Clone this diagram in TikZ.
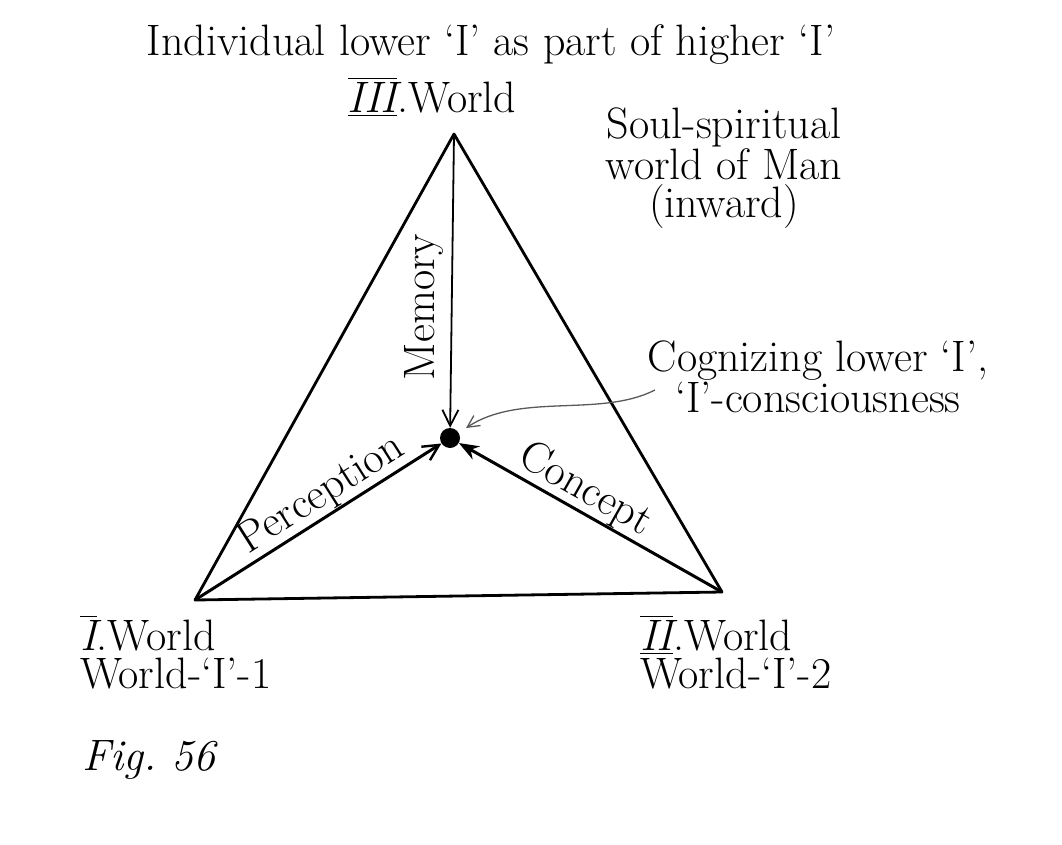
\documentclass[tikz,border=0pt]{standalone}
\usepackage{amsmath}
\usepackage{fontspec}
\usepackage{tikz}
\usetikzlibrary{arrows.meta,positioning}
\newcommand{\rnum}[1]{$\overline{\underline{\textit{#1}}}$}

\begin{document}
\begin{tikzpicture}[x=1pt,y=-1pt,
  every node/.style={font=\fontsize{44}{38}\selectfont,inner sep=2pt},
  side/.style={line width=2.8pt,line cap=round,line join=round},
  ray/.style={line width=3pt,-{Straight Barb[length=16pt,width=16pt,line width=2.4pt]}},
  dot/.style={circle,fill=black,inner sep=0pt,minimum size=20pt}]
\useasboundingbox (0,0) rectangle (1062,845);
% corners of the triangle
\coordinate (world3) at (454,134);
\coordinate (world1) at (195,600);
\coordinate (world2) at (722,592);
\node[dot] (ego) at (450,438) {};
\draw[side] (world3) -- (world1) -- (world2) -- cycle;
% the three streams
\draw[line width=1.8pt,-{Straight Barb[length=16pt,width=16pt,line width=1.8pt]}] (world3) -- (ego);
\draw[ray] (world1) -- (ego) node[pos=0.56,sloped,above,inner sep=0pt] {Perception};
\draw[line width=3pt,-{Stealth[length=20pt,width=15pt]}] (world2) -- (ego) node[pos=0.56,sloped,above,inner sep=0pt] {Concept};
\node[rotate=90] (memory) at (424,307) {Memory};
% labels
\node (title) at (491,45) {Individual lower `I' as part of higher `I'};
\node (label3) at (432,97) {\rnum{III}.World};
\node[align=center] (soul) at (724,168) {Soul-spiritual\\world of Man\\(inward)};
\node[align=center] (cogn) at (818,377) {Cognizing lower `I',\\`I'-consciousness};
\node[align=left,anchor=west] (label1) at (78,652) {$\overline{\textit{I}}$.World\\World-`I'-1};
\node[align=left,anchor=west] (label2) at (638,652) {\rnum{II}.World\\World-`I'-2};
\coordinate (cogntail) at (655,390);
\draw[line width=1.3pt,gray!70!black,-{Straight Barb[length=12pt,width=12pt,line width=1.3pt]}]
  (cogntail) .. controls (600,418) and (520,392) .. (466,428);
\node[anchor=west,font=\fontsize{44}{50}\selectfont\itshape] (fig) at (80,760) {Fig.\ 56};
\end{tikzpicture}
\end{document}
